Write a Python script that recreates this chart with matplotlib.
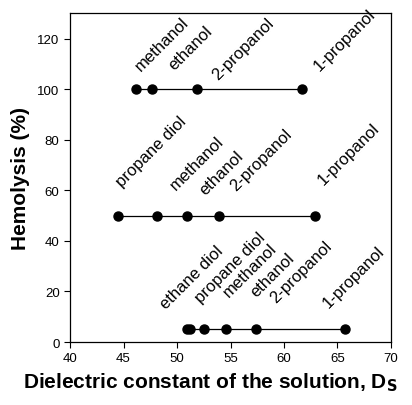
import matplotlib
matplotlib.use("Agg")
import matplotlib.pyplot as plt

plt.rcParams['font.family'] = ['Liberation Sans', 'DejaVu Sans']

# dielectric constant of each solution at the three hemolysis levels
names_100 = ['methanol', 'ethanol', '2-propanol', '1-propanol']
ds_100 = [46.2, 47.7, 51.9, 61.7]
hem_100 = [100, 100, 100, 100]

names_50 = ['propane diol', 'methanol', 'ethanol', '2-propanol', '1-propanol']
ds_50 = [44.5, 48.1, 50.9, 53.9, 62.9]
hem_50 = [50, 50, 50, 50, 50]

names_5 = ['ethane diol', 'propane diol', 'methanol', 'ethanol', '2-propanol', '1-propanol']
ds_5 = [50.9, 51.2, 52.5, 54.6, 57.4, 65.7]
hem_5 = [5, 5, 5, 5, 5, 5]

# label offsets in pixels from each point (hand placed, as in the original)
offs_100 = [(5, 18), (22, 19), (21, 9), (17, 18)]
offs_50 = [(4, 29), (19, 26), (19, 21), (17, 25), (9, 31)]
offs_5 = [(-21, 20), (11, 27), (25, 32), (30, 32), (20, 27), (-16, 22)]

fig = plt.figure(figsize=(4.12, 4.06), dpi=100)
ax = fig.add_axes([0.170, 0.155, 0.779, 0.810])

for xs, ys, names, offs in [(ds_100, hem_100, names_100, offs_100),
                            (ds_50, hem_50, names_50, offs_50),
                            (ds_5, hem_5, names_5, offs_5)]:
    ax.plot(xs, ys, '-', color='black', lw=0.9, marker='o', ms=6.5,
            mfc='black', mec='black')
    for x, y, name, (dx, dy) in zip(xs, ys, names, offs):
        ax.annotate(name, (x, y), xytext=(dx, dy), textcoords='offset pixels',
                    rotation=45, rotation_mode='anchor', ha='left', va='baseline',
                    fontsize=12)

ax.set_xlim(40, 70)
ax.set_ylim(0, 130)
ax.set_xticks(range(40, 71, 5))
ax.set_yticks(range(0, 121, 20))
ax.tick_params(direction='out', length=4, width=0.8, labelsize=9.5,
               top=False, right=False)
for s in ax.spines.values():
    s.set_linewidth(0.9)

ax.set_xlabel('Dielectric constant of the solution, D$_\\mathbf{S}$',
              fontsize=15, fontweight='bold', labelpad=10)
ax.xaxis.set_label_coords(0.436, -0.085)
ax.set_ylabel('Hemolysis (%)', fontsize=15, fontweight='bold')
ax.yaxis.set_label_coords(-0.125, 0.5)

fig.savefig('out.png', dpi=100)
